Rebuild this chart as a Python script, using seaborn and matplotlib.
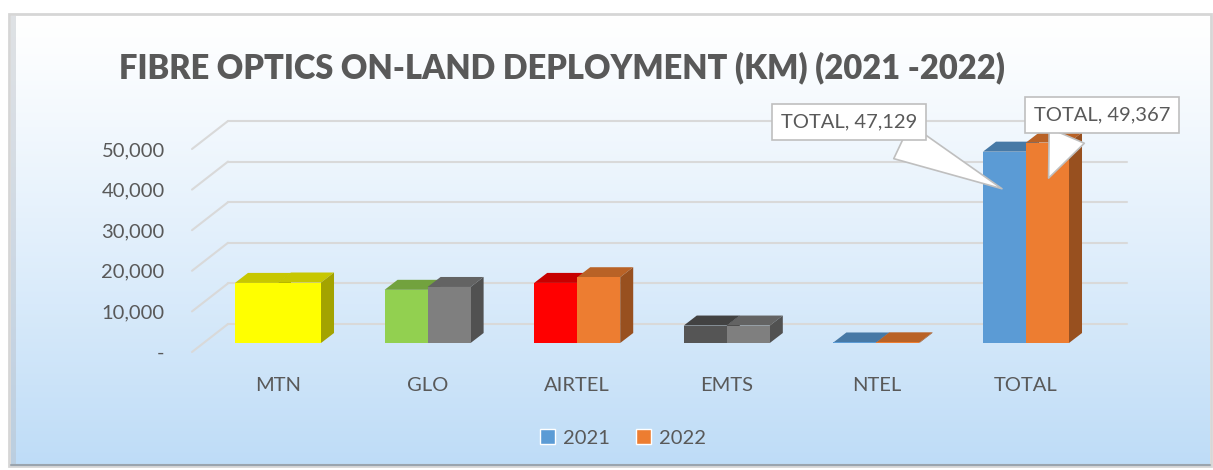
import numpy as np
import pandas as pd
import seaborn as sns
import matplotlib.pyplot as plt
from matplotlib.patches import Polygon, Patch, Rectangle
from matplotlib.colors import to_rgb

# data
operators = ["MTN", "GLO", "AIRTEL", "EMTS", "NTEL", "TOTAL"]
years = ["2021", "2022"]
km_2021 = [14800, 13100, 14800, 4300, 129, 47129]
km_2022 = [14900, 13800, 16200, 4300, 167, 49367]
colors_2021 = ["#FFFF00", "#92D050", "#FF0000", "#555555", "#5B9BD5", "#5B9BD5"]
colors_2022 = ["#FFFF00", "#7F7F7F", "#ED7D31", "#7F7F7F", "#ED7D31", "#ED7D31"]
yticks = [0, 10000, 20000, 30000, 40000, 50000]
ytick_labels = ["-", "10,000", "20,000", "30,000", "40,000", "50,000"]

df = pd.DataFrame({
    "operator": operators * 2,
    "year": [years[0]] * len(operators) + [years[1]] * len(operators),
    "km": km_2021 + km_2022,
})

sns.set_style("white")
plt.rcParams["font.family"] = ["Lato", "DejaVu Sans"]
txt = "#595959"

W, H = 1213, 470
fig = plt.figure(figsize=(W / 100, H / 100), dpi=100)

# background panel with gradient
bg = fig.add_axes([0, 0, 1, 1])
bg.set_xlim(0, W)
bg.set_ylim(H, 0)
bg.axis("off")
top_c = np.array([1.0, 1.0, 1.0])
bot_c = np.array(to_rgb("#BEDCF7"))
t = np.linspace(0, 1, 300)[:, None, None]
grad = top_c + (t ** 1.15) * (bot_c - top_c)
bg.imshow(grad, extent=[11, 1210, 465, 16], aspect="auto", zorder=0)
bg.add_patch(Rectangle((9, 14), 1202, 452, fill=False, ec="#D6D6D6", lw=2, zorder=1))
bg.add_patch(Rectangle((11, 16), 5, 449, fc="#B8BEC6", alpha=0.45, lw=0, zorder=1))
bg.plot([11, 1210], [465, 465], color="#9AA4AE", lw=1.5, zorder=1)

# main axes: pixel mapping x0=278, 149.6 px per category; y0=343, 40.6 px per 10k
x0, xs = 278, 149.6
y0, ys = 343, 40.6 / 10000
L, R, T, B = 180, 1140, 100, 360
ax = fig.add_axes([L / W, 1 - B / H, (R - L) / W, (B - T) / H])
ax.patch.set_visible(False)

sns.barplot(data=df, x="operator", y="km", hue="year", width=0.575,
            saturation=1, legend=False, ax=ax, palette=["#5B9BD5", "#ED7D31"])

ax.set_xlim((L - x0) / xs, (R - x0) / xs)
ax.set_ylim((y0 - B) / ys, (y0 - T) / ys)

dx = 13 / xs
dy = 10 / ys


def shade(c, f):
    return tuple(np.array(to_rgb(c)) * f)


for cont, cols in zip(ax.containers, [colors_2021, colors_2022]):
    for bar, c in zip(cont, cols):
        bar.set_facecolor(c)
        bar.set_edgecolor("none")
        bar.set_zorder(3)
        x, w, h = bar.get_x(), bar.get_width(), bar.get_height()
        ax.add_patch(Polygon([(x, h), (x + w, h), (x + w + dx, h + dy), (x + dx, h + dy)],
                             closed=True, fc=shade(c, 0.78), ec="none", zorder=2))
        ax.add_patch(Polygon([(x + w, 0), (x + w + dx, dy), (x + w + dx, h + dy), (x + w, h)],
                             closed=True, fc=shade(c, 0.64), ec="none", zorder=2))

# 3D walls: gridlines on back wall + diagonal on side wall
front_off = -9 / ys
back_off = 19 / ys
xl_front, xl_back, xr_back = (192 - x0) / xs, (228 - x0) / xs, (1127 - x0) / xs
for v in yticks:
    ax.plot([xl_front, xl_back], [v + front_off, v + back_off], color="#D9D9D9", lw=1.5, zorder=1)
    ax.plot([xl_back, xr_back], [v + back_off, v + back_off], color="#D9D9D9", lw=1.5, zorder=1)

ax.set_yticks([v + front_off for v in yticks], ytick_labels)
ax.tick_params(axis="y", length=0, pad=11, labelsize=14.5, labelcolor=txt)
ax.tick_params(axis="x", length=0, pad=12, labelsize=14.5, labelcolor=txt)
ax.set_xlabel("")
ax.set_ylabel("")
sns.despine(ax=ax, left=True, bottom=True)

# callouts on the totals
tot_bars = [ax.containers[0][5], ax.containers[1][5]]
callouts = [
    (tot_bars[0], km_2021[5], 0.80, (3.817, 54430), (0.72, 0.0)),
    (tot_bars[1], km_2022[5], 0.81, (5.508, 56160), (0.28, 0.0)),
]
for bar, val, frac, xyt, rp in callouts:
    ax.annotate(f"TOTAL, {val:,}", xy=(bar.get_x() + bar.get_width() / 2, val * frac),
                xytext=xyt, textcoords="data", ha="center", va="center",
                fontsize=14.5, color=txt, zorder=6,
                bbox=dict(boxstyle="square,pad=0.45", fc="white", ec="#BFBFBF", lw=1.2),
                arrowprops=dict(arrowstyle="wedge,tail_width=1.9,shrink_factor=0.5",
                                fc="white", ec="#BFBFBF", lw=1.2, relpos=rp))

fig.text(562 / W, 1 - 68 / H, "FIBRE OPTICS ON-LAND DEPLOYMENT (KM) (2021 -2022)",
         ha="center", va="center", fontsize=23.5, fontweight=800, color=txt)

handles = [Patch(fc="#5B9BD5"), Patch(fc="#ED7D31")]
fig.legend(handles, years, loc="center", bbox_to_anchor=(623 / W, 1 - 438 / H), ncol=2,
           frameon=False, fontsize=14.5, handlelength=0.75, handleheight=0.75,
           handletextpad=0.4, columnspacing=1.3, labelcolor=txt)

fig.savefig("out.png", dpi=100)
